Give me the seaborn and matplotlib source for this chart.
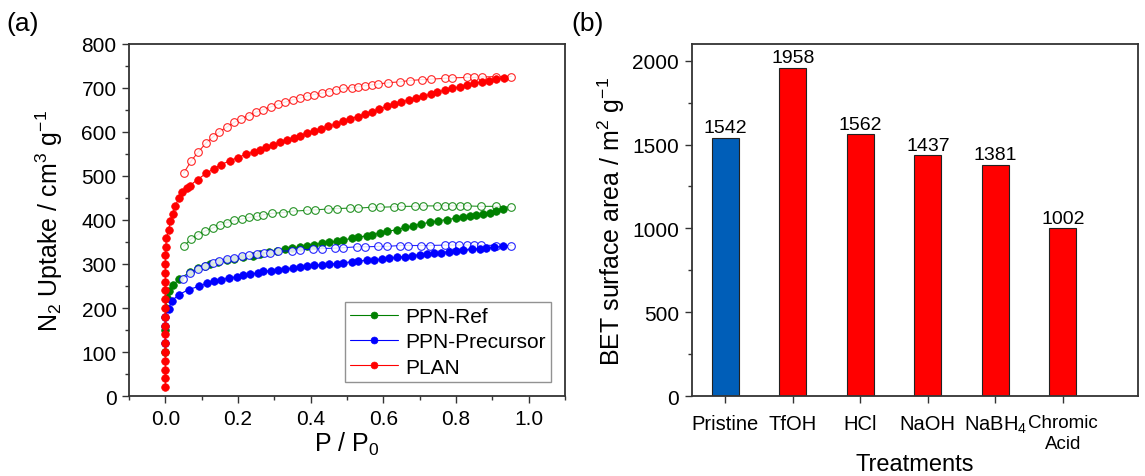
import matplotlib
matplotlib.use("Agg")
import matplotlib.pyplot as plt
import pandas as pd
import seaborn as sns
from matplotlib.ticker import MultipleLocator

sns.set_style("ticks")
plt.rcParams["font.family"] = ["Liberation Sans", "DejaVu Sans"]
plt.rcParams["mathtext.fontset"] = "custom"
plt.rcParams["mathtext.rm"] = "Liberation Sans"
plt.rcParams["mathtext.default"] = "regular"
plt.rcParams["text.color"] = "black"
plt.rcParams["axes.labelcolor"] = "black"
plt.rcParams["xtick.color"] = "black"
plt.rcParams["ytick.color"] = "black"

# ---- (a) N2 isotherms: adsorption (filled) / desorption (open) ----
plan_ads_p = [0.0] * 16 + [
    0.001, 0.003, 0.009, 0.014, 0.02, 0.027, 0.037, 0.046, 0.06, 0.067,
    0.089, 0.112, 0.133, 0.153, 0.177, 0.199, 0.222, 0.243, 0.26, 0.277,
    0.297, 0.316, 0.336, 0.355, 0.372, 0.389, 0.409, 0.429, 0.449, 0.469,
    0.488, 0.508, 0.529, 0.55, 0.57, 0.589, 0.61, 0.63, 0.65, 0.67,
    0.69, 0.71, 0.73, 0.749, 0.77, 0.789, 0.81, 0.831, 0.85, 0.872,
    0.89, 0.911, 0.931]
plan_ads_v = [
    20, 40, 60, 80, 100, 120, 140, 160, 180, 200, 220, 240, 260, 280, 300, 320,
    339, 358, 378, 398, 414, 432, 449, 463, 472, 478,
    492, 506, 516, 526, 534, 542, 549, 555, 560, 565,
    571, 577, 582, 587, 592, 597, 602, 607, 613, 618,
    624, 630, 635, 641, 646, 652, 658, 663, 668, 673,
    677, 681, 686, 691, 695, 699, 703, 707, 711, 714,
    717, 720, 723]
plan_des_p = [
    0.05, 0.071, 0.09, 0.112, 0.13, 0.149, 0.169, 0.19, 0.209, 0.229,
    0.249, 0.27, 0.29, 0.311, 0.33, 0.35, 0.371, 0.389, 0.409, 0.43,
    0.45, 0.47, 0.49, 0.513, 0.53, 0.549, 0.568, 0.586, 0.614, 0.646,
    0.673, 0.707, 0.731, 0.769, 0.79, 0.829, 0.849, 0.872, 0.909, 0.952]
plan_des_v = [
    506, 534, 554, 575, 588, 601, 611, 622, 630, 637,
    645, 651, 657, 663, 668, 673, 677, 681, 685, 688,
    692, 696, 699, 701, 703, 705, 707, 709, 712, 714,
    717, 719, 720, 722, 723, 724, 724, 725, 726, 726]

ref_ads_p = [
    0.0, 0.0, 0.001, 0.004, 0.009, 0.021, 0.038, 0.067, 0.09, 0.11,
    0.124, 0.145, 0.169, 0.19, 0.215, 0.24, 0.261, 0.285, 0.307, 0.33,
    0.348, 0.37, 0.389, 0.41, 0.43, 0.45, 0.472, 0.49, 0.513, 0.53,
    0.554, 0.57, 0.591, 0.61, 0.637, 0.66, 0.682, 0.705, 0.728, 0.75,
    0.774, 0.8, 0.82, 0.84, 0.856, 0.875, 0.893, 0.91, 0.929]
ref_ads_v = [
    100, 150, 200, 222, 239, 252, 266, 281, 290, 296,
    300, 304, 308, 312, 315, 319, 323, 327, 330, 333,
    336, 339, 342, 344, 347, 349, 352, 355, 358, 361,
    364, 367, 370, 374, 378, 383, 387, 391, 395, 398,
    401, 404, 406, 409, 411, 414, 417, 420, 424]
ref_des_p = [
    0.05, 0.071, 0.09, 0.11, 0.131, 0.151, 0.169, 0.19, 0.21, 0.231,
    0.252, 0.27, 0.293, 0.325, 0.351, 0.389, 0.412, 0.449, 0.472, 0.508,
    0.531, 0.568, 0.591, 0.629, 0.65, 0.687, 0.71, 0.749, 0.769, 0.79,
    0.81, 0.829, 0.87, 0.909, 0.952]
ref_des_v = [
    340, 357, 367, 375, 382, 389, 394, 399, 402, 406,
    408, 412, 415, 417, 420, 422, 423, 425, 426, 427,
    427, 429, 429, 430, 431, 431, 432, 432, 432, 432,
    432, 432, 431, 431, 429]

pre_ads_p = [
    0.0, 0.0, 0.0, 0.009, 0.018, 0.037, 0.064, 0.092, 0.115, 0.133,
    0.153, 0.174, 0.197, 0.215, 0.234, 0.256, 0.27, 0.29, 0.311, 0.33,
    0.352, 0.37, 0.389, 0.41, 0.43, 0.45, 0.472, 0.49, 0.513, 0.53,
    0.554, 0.575, 0.595, 0.615, 0.637, 0.66, 0.678, 0.7, 0.719, 0.74,
    0.76, 0.78, 0.801, 0.82, 0.843, 0.865, 0.884, 0.905, 0.93]
pre_ads_v = [
    120, 160, 179, 198, 217, 230, 242, 249, 256, 261,
    264, 268, 271, 275, 277, 280, 283, 285, 287, 289,
    291, 293, 295, 297, 298, 300, 301, 303, 305, 307,
    308, 310, 311, 313, 315, 317, 319, 321, 323, 324,
    326, 328, 330, 331, 333, 334, 336, 338, 340]
pre_des_p = [
    0.049, 0.069, 0.089, 0.11, 0.13, 0.149, 0.169, 0.19, 0.21, 0.231,
    0.252, 0.272, 0.288, 0.311, 0.348, 0.371, 0.407, 0.43, 0.467, 0.49,
    0.527, 0.549, 0.586, 0.609, 0.646, 0.668, 0.705, 0.728, 0.769, 0.788,
    0.809, 0.829, 0.849, 0.87, 0.909, 0.952]
pre_des_v = [
    267, 279, 289, 296, 302, 307, 311, 314, 318, 320,
    323, 326, 326, 329, 330, 332, 334, 335, 336, 337,
    339, 339, 340, 340, 342, 342, 342, 342, 343, 343,
    343, 343, 343, 343, 342, 342]

series_names = ["PPN-Ref", "PPN-Precursor", "PLAN"]
series_colors = ["#008000", "#0000FF", "#FF0000"]

# ---- (b) BET surface areas ----
treatments = ["Pristine", "TfOH", "HCl", "NaOH", "NaBH4", "Chromic Acid"]
tick_labels = ["Pristine", "TfOH", "HCl", "NaOH", "NaBH$_4$", "Chromic\nAcid"]
bet_area = [1542, 1958, 1562, 1437, 1381, 1002]
bar_colors = ["#005EB8", "#FF0000", "#FF0000", "#FF0000", "#FF0000", "#FF0000"]

fig = plt.figure(figsize=(11.45, 4.77), dpi=100)
ax1 = fig.add_axes([0.1127, 0.1677, 0.3807, 0.738])
ax2 = fig.add_axes([0.6041, 0.1677, 0.3901, 0.738])

spine_color = "#333333"
tick_fs = 15
label_fs = 18

isotherms = [
    (ref_ads_p, ref_ads_v, ref_des_p, ref_des_v),
    (pre_ads_p, pre_ads_v, pre_des_p, pre_des_v),
    (plan_ads_p, plan_ads_v, plan_des_p, plan_des_v),
]
handles = []
for name, color, (ap, av, dp, dv) in zip(series_names, series_colors, isotherms):
    des = pd.DataFrame({"p": dp, "v": dv})
    sns.lineplot(data=des, x="p", y="v", ax=ax1, estimator=None, sort=False,
                 color=color, linewidth=0.8, marker="o", markersize=5.5,
                 markerfacecolor="white", markeredgecolor=color,
                 markeredgewidth=0.8, alpha=0.85)
    ads = pd.DataFrame({"p": ap, "v": av})
    sns.lineplot(data=ads, x="p", y="v", ax=ax1, estimator=None, sort=False,
                 color=color, linewidth=0.8, marker="o", markersize=5.5,
                 markerfacecolor=color, markeredgecolor=color,
                 markeredgewidth=0.5, label=name)
    handles.append(ax1.lines[-1])

ax1.set_xlim(-0.1, 1.1)
ax1.set_ylim(0, 800)
ax1.xaxis.set_major_locator(MultipleLocator(0.2))
ax1.xaxis.set_minor_locator(MultipleLocator(0.1))
ax1.yaxis.set_major_locator(MultipleLocator(100))
ax1.yaxis.set_minor_locator(MultipleLocator(50))
ax1.set_xticks([0.0, 0.2, 0.4, 0.6, 0.8, 1.0])
ax1.set_xticklabels(["0.0", "0.2", "0.4", "0.6", "0.8", "1.0"])
ax1.set_xlabel("P / P$_0$", fontsize=label_fs, labelpad=2)
ax1.set_ylabel("N$_2$ Uptake / cm$^3$ g$^{-1}$", fontsize=label_fs, labelpad=12)

leg = ax1.legend(handles=handles, labels=series_names, loc="lower right",
                 bbox_to_anchor=(0.968, 0.04), fontsize=15, frameon=True,
                 fancybox=False, handlelength=2.3, handletextpad=0.35,
                 borderpad=0.25, borderaxespad=0.0, labelspacing=0.3,
                 markerscale=0.9)
leg.get_frame().set_edgecolor("#777777")
leg.get_frame().set_linewidth(1.0)

bars = pd.DataFrame({"treatment": treatments, "area": bet_area})
sns.barplot(data=bars, x="treatment", y="area", hue="treatment",
            palette=bar_colors, legend=False, width=0.4, ax=ax2,
            edgecolor="#222222", linewidth=0.8, saturation=1)
for cont in ax2.containers:
    ax2.bar_label(cont, fmt="%d", padding=1, fontsize=14)

ax2.set_xlim(-0.5, 6.12)
ax2.set_ylim(0, 2100)
ax2.yaxis.set_major_locator(MultipleLocator(500))
ax2.yaxis.set_minor_locator(MultipleLocator(250))
ax2.set_xticks(range(len(treatments)))
ax2.set_xticklabels(tick_labels)
ax2.set_xlabel("Treatments", fontsize=17)
ax2.xaxis.set_label_coords(0.5, -0.162)
ax2.set_ylabel("BET surface area / m$^2$ g$^{-1}$", fontsize=label_fs, labelpad=4)

for ax in (ax1, ax2):
    for sp in ax.spines.values():
        sp.set_visible(True)
        sp.set_color(spine_color)
        sp.set_linewidth(1.3)
    ax.tick_params(axis="both", which="major", direction="out", length=5,
                   width=1.0, color=spine_color, labelsize=tick_fs, pad=4,
                   top=False, right=False)
    ax.tick_params(axis="both", which="minor", direction="out", length=3,
                   width=1.0, color=spine_color, top=False, right=False)
ax2.tick_params(axis="x", which="major", labelsize=14.5, pad=8)
ax2.get_xticklabels()[-1].set_fontsize(13.5)
ax2.get_xticklabels()[-1].set_linespacing(1.3)

fig.text(0.006, 0.975, "(a)", fontsize=19, va="top", ha="left")
fig.text(0.499, 0.975, "(b)", fontsize=19, va="top", ha="left")

fig.savefig("out.png", dpi=100)
